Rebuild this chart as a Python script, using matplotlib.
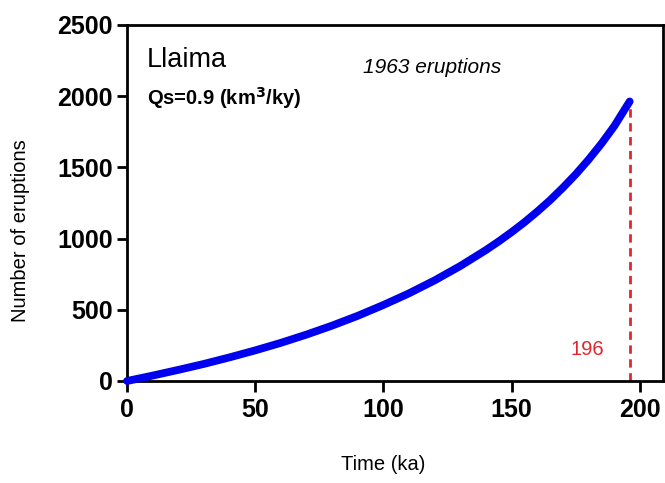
import numpy as np
from matplotlib import pyplot as plt

plt.rcParams['font.family'] = ['Liberation Sans', 'DejaVu Sans']

# Erupciones acumuladas vs tiempo (Llaima)
tiempo = [0, 10, 20, 30, 40, 50, 60, 70, 80, 90, 100, 110, 120, 130, 140, 145,
          150, 155, 160, 165, 170, 175, 180, 185, 190, 196]
erupciones = [0, 38, 78, 120, 166, 215, 268, 326, 389, 458, 534, 616, 707, 808,
              920, 981, 1046, 1115, 1190, 1270, 1358, 1452, 1555, 1667, 1790, 1963]
t_final = 196
n_final = 1963

x_ticks = [0, 50, 100, 150, 200]
y_ticks = [0, 500, 1000, 1500, 2000, 2500]

fig = plt.figure(figsize=(6.65, 4.83), dpi=100)
ax = fig.add_axes([127 / 665, 1 - 381 / 483, (663 - 127) / 665, (381 - 25) / 483])

#======================== Curva
ax.plot(tiempo, erupciones, color='#0000f0', linewidth=5.6,
        solid_capstyle='round', solid_joinstyle='round', clip_on=False, zorder=3)

#======================== Linea de corte
ax.vlines(t_final, 0, n_final, colors='#e3262e', linestyles=(0, (3, 2)),
          linewidth=2, zorder=2)
ax.text(179.3, 218, str(t_final), color='#e3262e', fontsize=14.5,
        ha='center', va='center')

#======================== Textos
ax.text(7.8, 2255, 'Llaima', fontsize=19.5, ha='left', va='center')
ax.text(7.8, 1985, 'Qs=0.9 (km$^\\mathbf{3}$/ky)', fontsize=14.5,
        fontweight='bold', ha='left', va='center')
ax.text(119, 2200, '%d eruptions' % n_final, fontsize=15, style='italic',
        ha='center', va='center')

ax.set_xlim(0, 209)
ax.set_ylim(0, 2500)
ax.set_xticks(x_ticks)
ax.set_yticks(y_ticks)
ax.set_xticklabels([str(v) for v in x_ticks], fontsize=18, fontweight='bold')
ax.set_yticklabels([str(v) for v in y_ticks], fontsize=18, fontweight='bold')

for s in ax.spines.values():
    s.set_linewidth(2)
ax.tick_params(axis='both', direction='out', width=2, color='black')
ax.tick_params(axis='x', length=8, pad=4)
ax.tick_params(axis='y', length=7, pad=3)

ax.set_xlabel('Time (ka)', fontsize=14.5)
ax.set_ylabel('Number of eruptions', fontsize=14.5)
ax.xaxis.set_label_coords((383 - 127) / 536, (381 - 455) / 356)
ax.yaxis.set_label_coords((30 - 127) / 536, (381 - 231) / 356)

fig.savefig('out.png', dpi=100)
